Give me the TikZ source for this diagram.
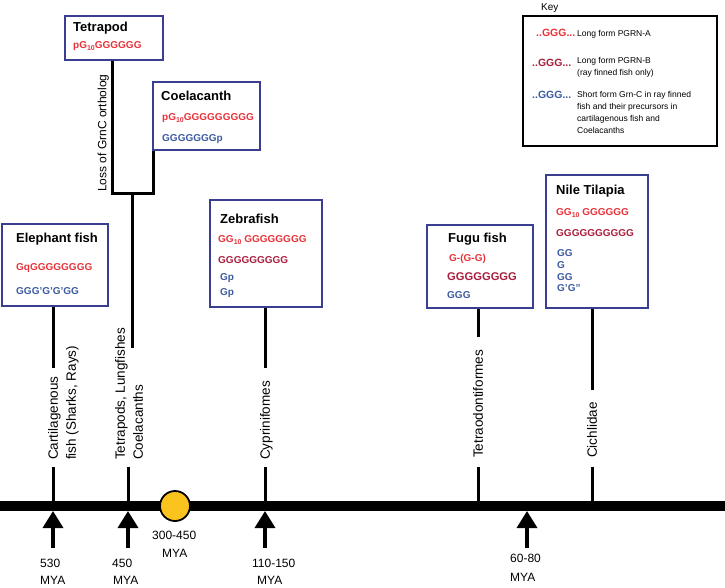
\documentclass[tikz,border=0pt]{standalone}
\usepackage{fontspec}
\setmainfont{Liberation Sans}
\usetikzlibrary{arrows.meta}
\definecolor{boxblue}{RGB}{58,62,145}
\definecolor{seqred}{RGB}{232,50,58}
\definecolor{seqdark}{RGB}{170,30,60}
\definecolor{seqblue}{RGB}{60,90,160}
\definecolor{circfill}{RGB}{250,195,30}
\newcommand\subnum[1]{\raisebox{-0.45ex}{\fontsize{7}{7}\selectfont #1}}
\begin{document}
\begin{tikzpicture}[x=1pt,y=-1pt,
  fishbox/.style={draw=boxblue, line width=1.5pt, inner sep=0pt, anchor=north west},
  keybox/.style={draw=black, line width=1.8pt, inner sep=0pt, anchor=north west},
  boxtitle/.style={anchor=base west, inner sep=0pt, font=\fontsize{13}{13}\selectfont\bfseries},
  seqtxt/.style={anchor=base west, inner sep=0pt, font=\fontsize{10}{12}\selectfont\bfseries},
  keyseq/.style={anchor=base west, inner sep=0pt, font=\fontsize{10.5}{10.5}\selectfont\bfseries},
  keytxt/.style={anchor=base west, inner sep=0pt, font=\fontsize{8.5}{8.5}\selectfont},
  rotlab/.style={rotate=90, anchor=base west, inner sep=0pt, font=\fontsize{13.5}{13.5}\selectfont},
  myatxt/.style={anchor=base west, inner sep=0pt, font=\fontsize{12}{12}\selectfont},
  stem/.style={line width=3pt},
  agearrow/.style={line width=3.5pt, -{Triangle[width=20pt,length=17pt]}}
]
\useasboundingbox (0,0) rectangle (725,587);

% timeline
\coordinate (tl0) at (0,506);
\coordinate (tl1) at (725,506);
\draw[line width=10pt] (tl0) -- (tl1);

% boxes
\node[fishbox, minimum width=98pt, minimum height=44pt] (tetra) at (64,15) {};
\node[fishbox, minimum width=107pt, minimum height=68pt] (coel) at (152,81) {};
\node[fishbox, minimum width=106pt, minimum height=82pt] (eleph) at (1,223) {};
\node[fishbox, minimum width=112pt, minimum height=107pt] (zebra) at (209,199) {};
\node[fishbox, minimum width=106pt, minimum height=83pt] (fugu) at (426,224) {};
\node[fishbox, minimum width=102pt, minimum height=133pt] (tilap) at (545,174) {};
\node[keybox, minimum width=194pt, minimum height=130pt] (keyb) at (522,15) {};

% box texts
\node[boxtitle] (tetT) at (73,31.6) {Tetrapod};
\node[seqtxt, text=seqred] (tetR) at (73,48.6) {pG\subnum{10}GGGGGG};

\node[boxtitle] (coeT) at (161,100.6) {Coelacanth};
\node[seqtxt, text=seqred] (coeR) at (162,120.6) {pG\subnum{10}GGGGGGGGG};
\node[seqtxt, text=seqblue] (coeB) at (162,141.6) {GGGGGGGp};

\node[boxtitle] (eleT) at (16,242.6) {Elephant fish};
\node[seqtxt, text=seqred] (eleR) at (16,270.6) {GqGGGGGGGG};
\node[seqtxt, text=seqblue] (eleB) at (16,294.6) {GGG’G’G’GG};

\node[boxtitle] (zebT) at (220,223.6) {Zebrafish};
\node[seqtxt, text=seqred] (zebR) at (218,242.6) {GG\subnum{10} GGGGGGGG};
\node[seqtxt, text=seqdark] (zebD) at (218,263.6) {GGGGGGGGG};
\node[seqtxt, text=seqblue] (zebB1) at (220,280.6) {Gp};
\node[seqtxt, text=seqblue] (zebB2) at (220,295.6) {Gp};

\node[boxtitle] (fugT) at (448,242.6) {Fugu fish};
\node[seqtxt, text=seqred] (fugR) at (449,261.6) {G-(G-G)};
\node[seqtxt, text=seqdark, font=\fontsize{11.2}{12}\selectfont\bfseries] (fugD) at (447,280) {GGGGGGGG};
\node[seqtxt, text=seqblue] (fugB) at (447,298.6) {GGG};

\node[boxtitle] (tilT) at (556,194.6) {Nile Tilapia};
\node[seqtxt, text=seqred] (tilR) at (556,215.6) {GG\subnum{10} GGGGGG};
\node[seqtxt, text=seqdark] (tilD) at (556,236.6) {GGGGGGGGGG};
\node[seqtxt, text=seqblue] (tilB1) at (557,256.6) {GG};
\node[seqtxt, text=seqblue] (tilB2) at (557,268.6) {G};
\node[seqtxt, text=seqblue] (tilB3) at (557,280.6) {GG};
\node[seqtxt, text=seqblue] (tilB4) at (557,291.6) {G’G”};

% key
\node[anchor=base west, inner sep=0pt, font=\fontsize{10}{10}\selectfont] (keyT) at (541,10.5) {Key};
\node[keyseq, text=seqred] (k1s) at (536,36.8) {..GGG...};
\node[keytxt] (k1t) at (577,36) {Long form PGRN-A};
\node[keyseq, text=seqdark] (k2s) at (532,66.8) {..GGG...};
\node[keytxt] (k2t) at (577,63) {Long form PGRN-B};
\node[keytxt] (k2u) at (577,75) {(ray finned fish only)};
\node[keyseq, text=seqblue] (k3s) at (532,98.8) {..GGG...};
\node[keytxt] (k3t) at (577,97) {Short form Grn-C in ray finned};
\node[keytxt] (k3u) at (577,109) {fish and their precursors in};
\node[keytxt] (k3v) at (577,121) {cartilagenous fish and};
\node[keytxt] (k3w) at (577,133) {Coelacanths};

% tree
\coordinate (jl) at (112,193);
\coordinate (jr) at (153,193);
\coordinate (jm) at (132,193);
\coordinate (jb) at (132,348);
\draw[stem] (tetra.south -| jl) -- (jl) -- (jr) -- (jr |- coel.south);
\draw[stem] (jm) -- (jb);
\node[rotlab, font=\fontsize{12}{12}\selectfont] (loss) at (106.3,192) {Loss of GrnC ortholog};

% stems
\coordinate (e1) at (53,368);  \coordinate (e2) at (53,467);
\coordinate (t2) at (128,467);
\coordinate (z1) at (265,368); \coordinate (z2) at (265,467);
\coordinate (f1) at (478,337); \coordinate (f2) at (478,467);
\coordinate (c1) at (592,390); \coordinate (c2) at (592,467);
\draw[stem] (eleph.south -| e1) -- (e1);
\draw[stem] (e2) -- (e2 |- tl0);
\draw[stem] (t2) -- (t2 |- tl0);
\draw[stem] (zebra.south -| z1) -- (z1);
\draw[stem] (z2) -- (z2 |- tl0);
\draw[stem] (fugu.south -| f1) -- (f1);
\draw[stem] (f2) -- (f2 |- tl0);
\draw[stem] (tilap.south -| c1) -- (c1);
\draw[stem] (c2) -- (c2 |- tl0);

% rotated labels
\node[rotlab] (lc1) at (57.8,460) {Cartilagenous};
\node[rotlab] (lc2) at (75.8,460) {fish (Sharks, Rays)};
\node[rotlab] (lt1) at (124.8,460) {Tetrapods, Lungfishes};
\node[rotlab] (lt2) at (142.8,460) {Coelacanths};
\node[rotlab] (lz) at (269.8,460) {Cyprinifomes};
\node[rotlab] (lf) at (482.8,458) {Tetraodontiformes};
\node[rotlab] (lci) at (596.8,458) {Cichlidae};

% circle
\node[circle, draw=black, line width=1.8pt, fill=circfill, minimum size=30pt, inner sep=0pt] (yc) at (175,506) {};

% age arrows
\coordinate (a1b) at (53,548);  \coordinate (a1t) at (53,511);
\coordinate (a2b) at (128,548); \coordinate (a2t) at (128,511);
\coordinate (a3b) at (265,548); \coordinate (a3t) at (265,511);
\coordinate (a4b) at (527,548); \coordinate (a4t) at (527,511);
\draw[agearrow] (a1b) -- (a1t);
\draw[agearrow] (a2b) -- (a2t);
\draw[agearrow] (a3b) -- (a3t);
\draw[agearrow] (a4b) -- (a4t);

% ages
\node[myatxt] (m1a) at (40,567.3) {530};
\node[myatxt] (m1b) at (40,584.3) {MYA};
\node[myatxt] (m2a) at (112,567.3) {450};
\node[myatxt] (m2b) at (113,584.3) {MYA};
\node[myatxt] (m3a) at (152,539.3) {300-450};
\node[myatxt] (m3b) at (162,557.3) {MYA};
\node[myatxt] (m4a) at (252,567.3) {110-150};
\node[myatxt] (m4b) at (257,584.3) {MYA};
\node[myatxt] (m5a) at (510,562.3) {60-80};
\node[myatxt] (m5b) at (510,581.3) {MYA};
\end{tikzpicture}
\end{document}
